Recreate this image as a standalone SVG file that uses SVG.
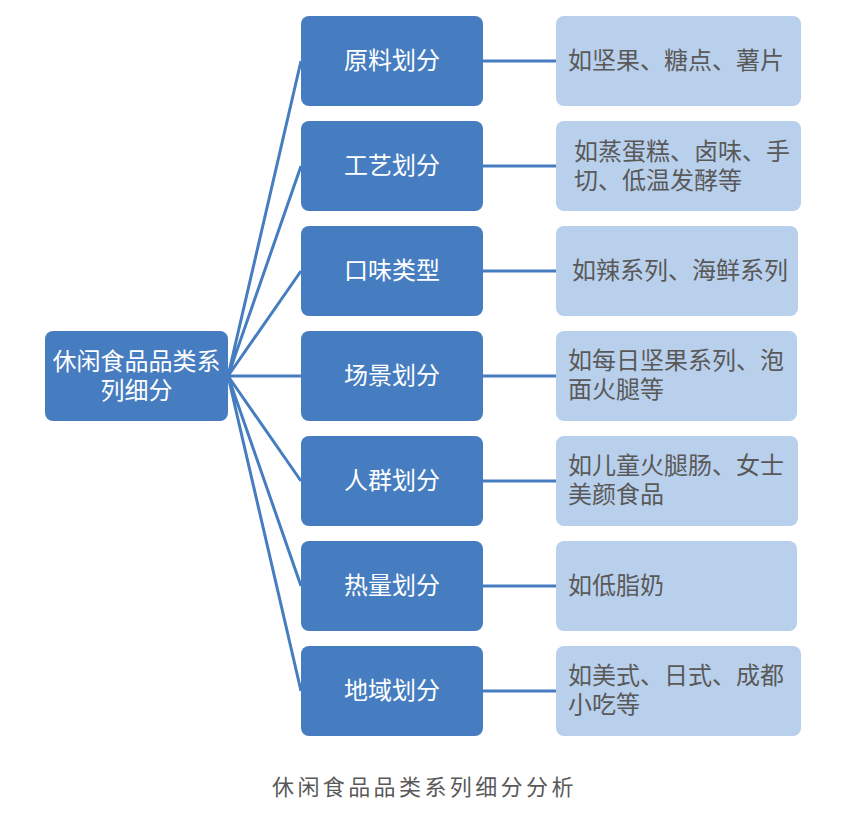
<svg xmlns="http://www.w3.org/2000/svg" width="850" height="818" viewBox="0 0 850 818">
<style>
.d{fill:#467DC0}
.l{fill:#B9D0EC}
.t{font-family:"Noto Sans CJK SC","Noto Sans",sans-serif;font-size:24px}
.w{fill:#fff;text-anchor:middle}
.g{fill:#595959}
.c{stroke:#467DC0;stroke-width:3;fill:none}
.cap{font-family:"Noto Sans CJK SC",serif;font-size:22px;fill:#595959;letter-spacing:3.4px}
</style>
<rect width="850" height="818" fill="#fff"/>
<g id="connectors">
<path class="c" d="M228 376L301 61M228 376L301 166M228 376L301 271M228 376L301 376M228 376L301 481M228 376L301 586M228 376L301 691"/>
<path class="c" d="M483 61H556M483 166H556M483 271H556M483 376H556M483 481H556M483 586H556M483 691H556"/>
</g>
<g id="root"><rect class="d" x="45" y="331" width="183" height="90" rx="8"/><text class="t w"><tspan x="136.5" y="370">休闲食品品类系</tspan><tspan x="136.5" y="399">列细分</tspan></text></g>
<g id="m1"><rect class="d" x="301" y="16" width="182" height="90" rx="8"/><text class="t w" x="392" y="69">原料划分</text></g>
<g id="m2"><rect class="d" x="301" y="121" width="182" height="90" rx="8"/><text class="t w" x="392" y="174">工艺划分</text></g>
<g id="m3"><rect class="d" x="301" y="226" width="182" height="90" rx="8"/><text class="t w" x="392" y="279">口味类型</text></g>
<g id="m4"><rect class="d" x="301" y="331" width="182" height="90" rx="8"/><text class="t w" x="392" y="384">场景划分</text></g>
<g id="m5"><rect class="d" x="301" y="436" width="182" height="90" rx="8"/><text class="t w" x="392" y="489">人群划分</text></g>
<g id="m6"><rect class="d" x="301" y="541" width="182" height="90" rx="8"/><text class="t w" x="392" y="594">热量划分</text></g>
<g id="m7"><rect class="d" x="301" y="646" width="182" height="90" rx="8"/><text class="t w" x="392" y="699">地域划分</text></g>
<g id="r1"><rect class="l" x="556" y="16" width="245" height="90" rx="8"/><text class="t g" x="568" y="69">如坚果、糖点、薯片</text></g>
<g id="r2"><rect class="l" x="556" y="121" width="245" height="90" rx="8"/><text class="t g"><tspan x="574" y="160">如蒸蛋糕、卤味、手</tspan><tspan x="574" y="189">切、低温发酵等</tspan></text></g>
<g id="r3"><rect class="l" x="556" y="226" width="242" height="90" rx="8"/><text class="t g" x="572" y="279">如辣系列、海鲜系列</text></g>
<g id="r4"><rect class="l" x="556" y="331" width="241" height="90" rx="8"/><text class="t g"><tspan x="568" y="369">如每日坚果系列、泡</tspan><tspan x="568" y="398">面火腿等</tspan></text></g>
<g id="r5"><rect class="l" x="556" y="436" width="242" height="90" rx="8"/><text class="t g"><tspan x="568" y="474">如儿童火腿肠、女士</tspan><tspan x="568" y="503">美颜食品</tspan></text></g>
<g id="r6"><rect class="l" x="556" y="541" width="241" height="90" rx="8"/><text class="t g" x="568" y="594">如低脂奶</text></g>
<g id="r7"><rect class="l" x="556" y="646" width="245" height="90" rx="8"/><text class="t g"><tspan x="568" y="684">如美式、日式、成都</tspan><tspan x="568" y="713">小吃等</tspan></text></g>
<text class="cap" x="272" y="795">休闲食品品类系列细分分析</text>
</svg>
